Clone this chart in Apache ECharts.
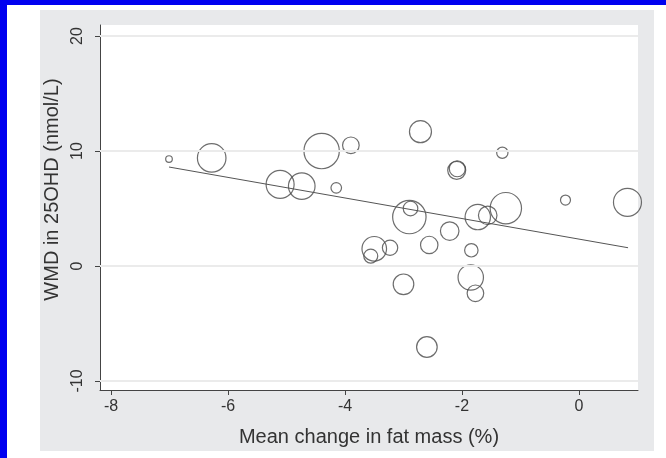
<!DOCTYPE html>
<html>
<head>
<meta charset="utf-8">
<script src="https://cdn.jsdelivr.net/npm/echarts@6/dist/echarts.min.js"></script>
<style>html,body{margin:0;padding:0;background:#fff;}#c{width:666px;height:458px;}</style>
</head>
<body>
<div id="c"></div>
<script>
// Mean change in fat mass (%)
var fatChange = [-7.01,-6.28,-5.11,-4.74,-4.40,-4.15,-3.90,-3.50,-3.56,-3.23,-3.00,-2.88,-2.90,-2.71,-2.56,-2.60,-2.21,-2.09,-2.08,-1.84,-1.85,-1.77,-1.73,-1.56,-1.25,-1.31,-0.23,0.83];
// WMD in 25OHD (nmol/L)
var wmd = [9.3,9.4,7.1,6.95,10.0,6.8,10.5,1.5,0.87,1.59,-1.59,5.0,4.26,11.68,1.83,-7.04,3.04,8.32,8.46,1.37,-0.99,-2.37,4.26,4.41,5.03,9.85,5.74,5.54];
// study weights (bubble area)
var weights = [11,204,196,177,313,28,69,151,49,59,106,53,279,121,76,106,86,81,64,45,161,69,161,86,246,32,25,196];
// fitted meta-regression line endpoints
var fitX = [-7.01, 0.84];
var fitY = [8.61, 1.59];
var xTicks = [-8,-6,-4,-2,0];
var yTicks = [-10,0,10,20];

var pts = fatChange.map(function(x,i){return [x, wmd[i], weights[i]];});
var fit = fitX.map(function(x,i){return [x, fitY[i]];});

var chart = echarts.init(document.getElementById('c'), null, {renderer:'canvas'});
var font = 'Liberation Sans, Arial, sans-serif';
chart.setOption({
  animation:false,
  backgroundColor:'#ffffff',
  graphic:[
    {type:'rect', shape:{x:40,y:10,width:614,height:441}, style:{fill:'#e8e9eb'}, z:-10, silent:true},
    {type:'rect', shape:{x:0,y:0,width:666,height:5}, style:{fill:'#0000f0'}, z:100, silent:true},
    {type:'rect', shape:{x:0,y:0,width:7,height:458}, style:{fill:'#0000f0'}, z:100, silent:true}
  ],
  grid:{left:100,right:28,top:25,bottom:68,show:true,backgroundColor:'#ffffff',borderWidth:0},
  xAxis:{
    type:'value', min:-8.19, max:1.01,
    name:'Mean change in fat mass (%)', nameLocation:'middle', nameGap:37,
    nameTextStyle:{fontFamily:font,fontSize:20,color:'#333'},
    axisLine:{show:true,onZero:false,lineStyle:{color:'#444',width:1}},
    axisTick:{show:true,length:5,lineStyle:{color:'#444'},customValues:xTicks},
    axisLabel:{fontFamily:font,fontSize:16,color:'#333',margin:9,customValues:xTicks},
    splitLine:{show:false}
  },
  yAxis:{
    type:'value', min:-10.78, max:20.96,
    name:'WMD in 25OHD (nmol/L)', nameLocation:'middle', nameGap:32,
    nameTextStyle:{fontFamily:font,fontSize:20,color:'#333',padding:[0,0,0,36]},
    axisLine:{show:true,onZero:false,lineStyle:{color:'#444',width:1}},
    axisTick:{show:true,length:5,lineStyle:{color:'#444'},customValues:yTicks},
    axisLabel:{fontFamily:font,fontSize:16,color:'#333',margin:14,rotate:90,customValues:yTicks},
    splitLine:{show:false}
  },
  series:[
    {type:'line', data:yTicks.map(function(v){return null;}), showSymbol:false,
     markLine:{silent:true,symbol:'none',label:{show:false},
       lineStyle:{color:'#ebebeb',width:2,type:'solid'},
       data:yTicks.map(function(v){return {yAxis:v};})}, z:1},
    {type:'scatter', data:pts, z:3,
     symbol:'circle',
     symbolSize:function(d){return 2*Math.sqrt(d[2]);},
     itemStyle:{color:'rgba(0,0,0,0)',borderColor:'#484848',borderWidth:1.2}},
    {type:'line', data:fit, z:4, showSymbol:false, symbol:'none',
     lineStyle:{color:'#555',width:1}}
  ]
});
</script>
</body>
</html>
